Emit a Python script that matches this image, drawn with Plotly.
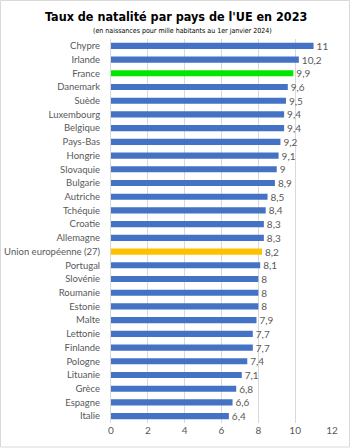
import plotly.graph_objects as go

pays = ["Chypre", "Irlande", "France", "Danemark", "Suède", "Luxembourg", "Belgique",
        "Pays-Bas", "Hongrie", "Slovaquie", "Bulgarie", "Autriche", "Tchéquie", "Croatie",
        "Allemagne", "Union européenne (27)", "Portugal", "Slovénie", "Roumanie", "Estonie",
        "Malte", "Lettonie", "Finlande", "Pologne", "Lituanie", "Grèce", "Espagne", "Italie"]
taux = [11, 10.2, 9.9, 9.6, 9.5, 9.4, 9.4, 9.2, 9.1, 9, 8.9, 8.5, 8.4, 8.3, 8.3, 8.2,
        8.1, 8, 8, 8, 7.9, 7.7, 7.7, 7.4, 7.1, 6.8, 6.6, 6.4]
x_ticks = [0, 2, 4, 6, 8, 10, 12]

BLUE = "#4472C4"
colors = []
for p in pays:
    if p == "France":
        colors.append("#00E600")
    elif p.startswith("Union"):
        colors.append("#FFC000")
    else:
        colors.append(BLUE)

labels = [f"{v:g}".replace(".", ",") for v in taux]
FONT = "Lato"

fig = go.Figure(go.Bar(
    x=taux, y=pays, orientation="h", marker=dict(color=colors, line=dict(width=0)),
    text=labels, textposition="outside", cliponaxis=False, constraintext="none",
    textfont=dict(color="#595959", size=10, family=FONT),
    width=0.45, hoverinfo="skip"))

L, R, T, B = 111, 18, 39, 25
W, H = 350, 448
pw, ph = W - L - R, H - T - B

def px2paper_x(px):
    return (px - L) / pw

def px2paper_y(py):
    return 1 - (py - T) / ph

TITLE_FONT = "DejaVu Sans Condensed, Liberation Sans"

fig.update_layout(
    width=W, height=H, margin=dict(l=L, r=R, t=T, b=B, autoexpand=False),
    paper_bgcolor="white", plot_bgcolor="white", showlegend=False,
    font=dict(family=FONT, color="#595959", size=10),
    xaxis=dict(range=[0, 12], tickvals=x_ticks, showgrid=True, gridcolor="#D9D9D9",
               gridwidth=1, zeroline=False, showline=False, ticks="", automargin=False,
               tickfont=dict(size=10, color="#595959", family=FONT), fixedrange=True),
    yaxis=dict(autorange="reversed", showgrid=False, showline=True, linecolor="#D9D9D9",
               ticks="", ticklabelstandoff=8, automargin=False,
               tickfont=dict(size=9.5, color="#595959", family=FONT),
               fixedrange=True),
    bargap=0.5,
    annotations=[
        dict(text="<b>Taux de natalité par pays de l'UE en 2023</b>", xref="paper", yref="paper",
             x=px2paper_x(176), y=px2paper_y(17), xanchor="center", yanchor="middle",
             showarrow=False,
             font=dict(family=TITLE_FONT, size=12.5, color="black")),
        dict(text="(en naissances pour mille habitants au 1er janvier 2024)", xref="paper", yref="paper",
             x=px2paper_x(182), y=px2paper_y(31), xanchor="center", yanchor="middle",
             showarrow=False,
             font=dict(family=TITLE_FONT, size=7, color="black")),
    ],
    shapes=[dict(type="rect", xref="paper", yref="paper",
                 x0=px2paper_x(0.5), x1=px2paper_x(349.5), y0=px2paper_y(447), y1=px2paper_y(0.5),
                 line=dict(color="#D9D9D9", width=1), fillcolor="rgba(0,0,0,0)", layer="below")],
)

fig.write_html("out.html")
